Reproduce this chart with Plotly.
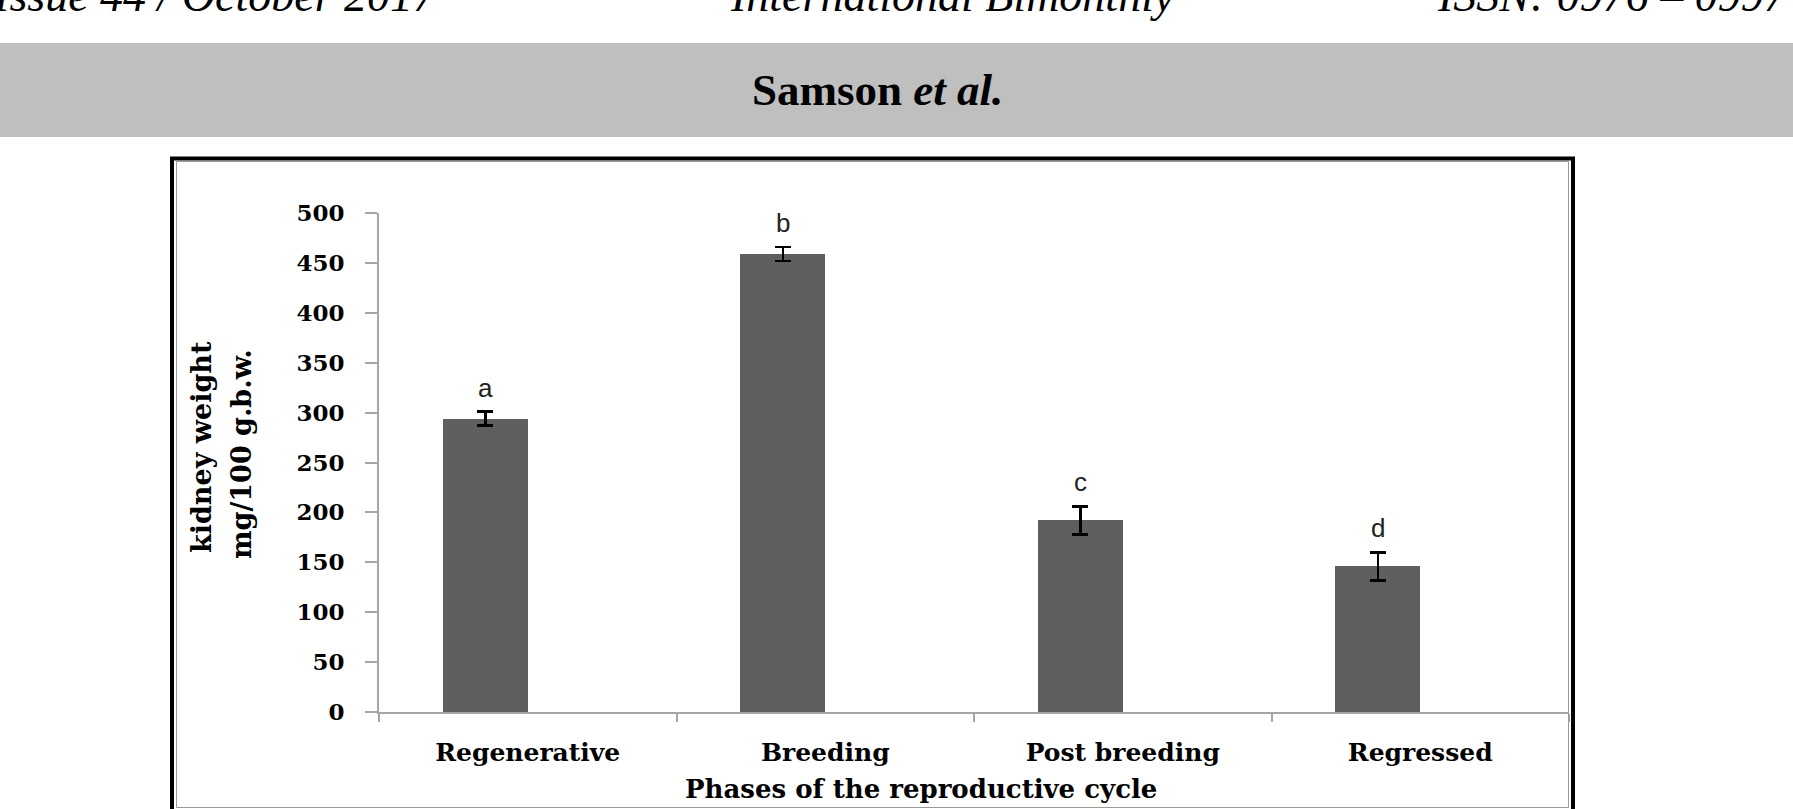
import plotly.graph_objects as go

# ---------------- data ----------------
categories = ["Regenerative", "Breeding", "Post breeding", "Regressed"]
kidney_weight = [294, 459, 192, 146]
sem = [7, 7, 14, 14]
sig_letters = ["a", "b", "c", "d"]
y_tick_values = [0, 50, 100, 150, 200, 250, 300, 350, 400, 450, 500]

# ---------------- layout geometry (pixels) ----------------
W, H = 1793, 809
L, R, T, B = 379, 1569, 213, 712
PW, PH = R - L, B - T


def px(x):
    return (x - L) / PW


def py(y):
    return (B - y) / PH


BAR_OFFSET = -0.285
BAR_WIDTH = 0.285
CAT_PX = PW / len(categories)

SERIF_B = "DejaVu Serif"

fig = go.Figure()
fig.add_trace(go.Bar(
    x=categories,
    y=kidney_weight,
    offset=BAR_OFFSET,
    width=BAR_WIDTH,
    marker=dict(color="#5f5f5f", line=dict(width=0)),
    error_y=dict(type="data", array=sem, visible=True, color="black",
                 thickness=2.5, width=8),
    showlegend=False,
    hoverinfo="skip",
))

annotations = []
for c, v, e, s in zip(categories, kidney_weight, sem, sig_letters):
    annotations.append(dict(
        x=c, y=v + e, xref="x", yref="y", text=s, showarrow=False,
        xshift=(BAR_OFFSET + BAR_WIDTH / 2) * CAT_PX, yshift=24,
        yanchor="middle",
        font=dict(family="Liberation Sans", size=26, color="#222222"),
    ))

# axis titles
annotations.append(dict(
    x=px(921), y=py(789), xref="paper", yref="paper", showarrow=False,
    text="<b>Phases of the reproductive cycle</b>", xanchor="center", yanchor="middle",
    font=dict(family=SERIF_B, size=26, color="black"),
))
annotations.append(dict(
    x=px(201), y=py(447), xref="paper", yref="paper", showarrow=False,
    text="<b>kidney weight</b>", textangle=-90, xanchor="center", yanchor="middle",
    font=dict(family=SERIF_B, size=27, color="black"),
))
annotations.append(dict(
    x=px(241), y=py(454), xref="paper", yref="paper", showarrow=False,
    text="<b>mg/100 g.b.w.</b>", textangle=-90, xanchor="center", yanchor="middle",
    font=dict(family=SERIF_B, size=27, color="black"),
))

# page header / running title
annotations.append(dict(
    x=px(877), y=py(90), xref="paper", yref="paper", showarrow=False,
    text="<b>Samson <i>et al.</i></b>", xanchor="center", yanchor="middle",
    font=dict(family="Liberation Serif", size=45, color="black"),
))
hdr_font = dict(family="Liberation Serif", size=46, color="black", style="italic")
HDR_Y = -5
annotations.append(dict(
    x=px(440), y=py(HDR_Y), xref="paper", yref="paper", showarrow=False,
    text="Vol.8 / Issue 44 / October 2017", xanchor="right", yanchor="middle",
    font=hdr_font,
))
annotations.append(dict(
    x=px(952), y=py(HDR_Y), xref="paper", yref="paper", showarrow=False,
    text="International Bimonthly", xanchor="center", yanchor="middle",
    font=hdr_font,
))
annotations.append(dict(
    x=px(1435), y=py(HDR_Y), xref="paper", yref="paper", showarrow=False,
    text="ISSN: 0976 \u2013 0997", xanchor="left", yanchor="middle",
    font=hdr_font,
))

shapes = [
    # grey title band
    dict(type="rect", xref="paper", yref="paper", x0=px(-5), x1=px(W + 5),
         y0=py(137), y1=py(43), fillcolor="#bfbfbf", line=dict(width=0), layer="below"),
    # outer black frame
    dict(type="rect", xref="paper", yref="paper", x0=px(172), x1=px(1573),
         y0=py(830), y1=py(158.5), line=dict(color="black", width=4),
         fillcolor="rgba(0,0,0,0)"),
    # inner grey frame
    dict(type="rect", xref="paper", yref="paper", x0=px(176.5), x1=px(1568.5),
         y0=py(807.5), y1=py(161.5), line=dict(color="#9a9a9a", width=1),
         fillcolor="rgba(0,0,0,0)"),
]

fig.update_layout(
    width=W, height=H,
    margin=dict(l=L, r=W - R, t=T, b=H - B, pad=0),
    paper_bgcolor="white", plot_bgcolor="white",
    bargap=0, showlegend=False,
    annotations=annotations, shapes=shapes,
    xaxis=dict(
        type="category", range=[-0.5, len(categories) - 0.5],
        showline=True, linecolor="#a6a6a6", linewidth=2,
        ticks="outside", tickson="boundaries", ticklen=8, tickcolor="#a6a6a6", tickwidth=2,
        ticklabelstandoff=17,
        tickfont=dict(family=SERIF_B, size=25, color="black", weight="bold"),
        showgrid=False, zeroline=False, fixedrange=True,
    ),
    yaxis=dict(
        range=[0, 500], tickvals=y_tick_values,
        showline=True, linecolor="#a6a6a6", linewidth=2,
        ticks="outside", ticklen=12, tickcolor="#a6a6a6", tickwidth=2,
        ticklabelstandoff=16,
        tickfont=dict(family=SERIF_B, size=23, color="black", weight="bold"),
        showgrid=False, zeroline=False, fixedrange=True,
    ),
)

fig.write_html("out.html", config={"displayModeBar": False})
